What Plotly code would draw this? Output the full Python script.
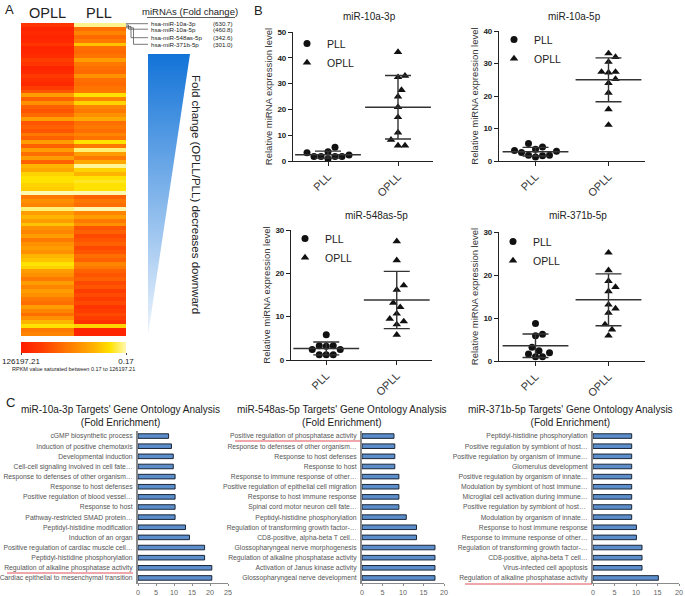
import numpy as np
import plotly.graph_objects as go

W, H = 685, 596
FONT = "Liberation Sans, Arial, sans-serif"

# ---------------- Panel A data ----------------
# position of each row on the saturated RPKM colour scale (0 -> 126197.21, 1 -> 0.17)
opll_scale = [0.15, 0.05, 0.08, 0.05, 0.07, 0.15, 0.05, 0.06, 0.10, 0.20,
              0.15, 0.05, 0.08, 0.18, 0.12, 0.08, 0.20, 0.30, 0.60, 0.35,
              0.55, 0.35, 0.30, 0.38, 0.60, 0.30, 0.35, 0.30, 0.45, 0.35,
              0.60, 0.35, 0.60, 0.40, 0.60, 0.35, 0.70, 0.65, 0.80, 0.85,
              0.85, 0.80, 0.78, 1.00, 0.45, 0.55, 0.50, 0.95, 0.60, 0.70,
              0.60, 0.75, 0.55, 0.50, 0.60, 0.45, 0.55, 0.60, 0.55, 0.70,
              0.75, 0.85, 0.80, 0.60, 0.55, 0.45, 0.60, 0.50, 0.60, 0.55,
              0.45, 0.40, 0.60, 0.50, 0.40, 0.55, 0.70, 0.85, 0.45, 0.50]
pll_scale = [0.97, 0.40, 0.50, 0.38, 0.45, 0.75, 0.40, 0.38, 0.42, 0.60,
             0.45, 0.40, 0.38, 0.55, 0.40, 0.38, 0.42, 0.45, 0.85, 0.50,
             0.80, 0.50, 0.45, 0.55, 0.65, 0.40, 0.45, 0.40, 0.50, 0.42,
             0.85, 0.45, 0.95, 0.60, 0.45, 0.65, 0.98, 0.80, 0.70, 0.85,
             0.88, 0.85, 0.85, 1.00, 0.35, 0.45, 0.40, 1.00, 0.50, 0.60,
             0.45, 0.55, 0.30, 0.35, 0.25, 0.30, 0.35, 0.25, 0.30, 0.40,
             0.35, 0.50, 0.45, 0.35, 0.30, 0.35, 0.25, 0.30, 0.20, 0.25,
             0.20, 0.25, 0.15, 0.20, 0.25, 0.20, 0.12, 0.80, 0.05, 0.05]
heat_columns = ["OPLL", "PLL"]
scale_ticks = ["126197.21", "0.17"]
mirna_labels = ["hsa-miR-10a-3p", "hsa-miR-10a-5p", "hsa-miR-548as-5p", "hsa-miR-371b-5p"]
fold_change = ["(630.7)", "(460.8)", "(342.6)", "(301.0)"]

# ---------------- Panel B data ----------------
groups = ["PLL", "OPLL"]
b_titles = ["miR-10a-3p", "miR-10a-5p", "miR-548as-5p", "miR-371b-5p"]
pll_10a3p = [3.2, 5.3, 3.6, 1.7, 1.7, 0.9, 1.7, 1.7, 2.3]
opll_10a3p = [42.2, 33.0, 32.5, 27.5, 25.0, 20.9, 17.0, 11.0, 8.2, 6.0, 6.0]
pll_10a5p = [4.3, 5.4, 3.2, 3.6, 1.8, 1.8, 1.2, 1.6, 2.6, 3.0]
opll_10a5p = [33.1, 32.0, 30.5, 27.4, 27.2, 27.4, 25.2, 24.0, 21.0, 15.9, 11.1]
pll_548as5p = [5.8, 3.3, 3.3, 3.2, 2.4, 2.4, 1.2, 1.2, 1.2]
opll_548as5p = [27.4, 23.0, 17.2, 16.2, 13.2, 12.2, 10.7, 9.5, 8.9, 8.2, 5.8]
pll_371b5p = [8.7, 5.9, 6.2, 3.2, 1.6, 2.4, 1.9, 1.0, 1.0]
opll_371b5p = [25.2, 21.1, 18.6, 17.2, 16.2, 13.1, 12.2, 11.2, 8.5, 7.3, 5.9]
b_ymax = [50, 40, 30, 30]

# ---------------- Panel C data ----------------
c_titles = ["miR-10a-3p Targets' Gene Ontology Analysis",
            "miR-548as-5p Targets' Gene Ontology Analysis",
            "miR-371b-5p Targets' Gene Ontology Analysis"]
go1_terms = ["cGMP biosynthetic process", "Induction of positive chemotaxis",
             "Developmental induction", "Cell-cell signaling involved in cell fate…",
             "Response to defenses of other organism…", "Response to host defenses",
             "Positive regulation of blood vessel…", "Response to host",
             "Pathway-restricted SMAD protein…", "Peptidyl-histidine modification",
             "Induction of an organ", "Positive regulation of cardiac muscle cell…",
             "Peptidyl-histidine phosphorylation", "Regulation of alkaline phosphatase activity",
             "Cardiac epithelial to mesenchymal transition"]
go1_values = [8.5, 9.3, 9.8, 9.8, 10.3, 10.3, 10.3, 10.3, 10.3, 13.2, 14.3, 18.5, 18.5, 20.5, 20.5]
go2_terms = ["Positive regulation of phosphatase activity", "Response to defenses of other organism…",
             "Response to host defenses", "Response to host",
             "Response to immune response of other…", "Positive regulation of epithelial cell migration",
             "Response to host immune response", "Spinal cord motor neuron cell fate…",
             "Peptidyl-histidine phosphorylation", "Regulation of transforming growth factor-…",
             "CD8-positive, alpha-beta T cell…", "Glossopharyngeal nerve morphogenesis",
             "Regulation of alkaline phosphatase activity", "Activation of Janus kinase activity",
             "Glossopharyngeal nerve development"]
go2_values = [7.8, 8.0, 8.0, 8.0, 9.0, 9.0, 9.0, 9.0, 10.8, 13.3, 13.3, 17.8, 17.8, 17.8, 17.8]
go3_terms = ["Peptidyl-histidine phosphorylation", "Positive regulation by symbiont of host…",
             "Positive regulation by organism of immune…", "Glomerulus development",
             "Positive regulation by organism of innate…", "Modulation by symbiont of host immune…",
             "Microglial cell activation during immune…", "Positive regulation by symbiont of host… ",
             "Modulation by organism of innate…", "Response to host immune response",
             "Response to immune response of other…", "Regulation of transforming growth factor-…",
             "CD8-positive, alpha-beta T cell…", "Virus-infected cell apoptosis",
             "Regulation of alkaline phosphatase activity"]
go3_values = [9.0, 9.0, 9.0, 9.0, 9.0, 9.0, 9.0, 9.0, 9.0, 10.1, 10.1, 11.4, 11.4, 11.4, 15.2]
c_xmax = [25, 20, 20]


def fx(x):
    return x / W


def fy(y):
    return 1 - y / H


def xdom(a, b):
    return [fx(a), fx(b)]


def ydom(top, bottom):
    return [fy(bottom), fy(top)]


fig = go.Figure()
layout = dict(width=W, height=H, autosize=False,
              margin=dict(l=0, r=0, t=0, b=0, pad=0, autoexpand=False),
              paper_bgcolor="white", plot_bgcolor="white",
              font=dict(family=FONT, color="#222"), bargap=0.55, showlegend=True)
annotations = []
shapes = []

# ---------------- Panel A ----------------
heat_cs = [[0.0, "#ff1c00"], [0.2, "#ff3c00"], [0.4, "#ff6e00"], [0.55, "#ff9000"],
           [0.7, "#ffb400"], [0.85, "#ffe200"], [1.0, "#fff8b0"]]
z = [[o, p] for o, p in zip(opll_scale, pll_scale)]
fig.add_trace(go.Heatmap(z=z, x=heat_columns, y=list(range(len(z))), colorscale=heat_cs,
                         zmin=0, zmax=1, xaxis="x", yaxis="y", hoverinfo="skip",
                         showlegend=False,
                         colorbar=dict(orientation="h", x=fx(73.5), xanchor="center",
                                       y=fy(342), yanchor="top", len=105 / W, thickness=11,
                                       tickvals=[0, 1], ticktext=scale_ticks,
                                       tickfont=dict(size=8, color="#222"), outlinewidth=0,
                                       ticks="outside", ticklen=2, xpad=0, ypad=0)))
layout["xaxis"] = dict(domain=xdom(21, 126), visible=False, anchor="y")
layout["yaxis"] = dict(domain=ydom(23, 336), visible=False, range=[len(z) - 0.5, -0.5], anchor="x")

# gradient triangle
fig.add_trace(go.Scatter(x=[0, 1, 0, 0], y=[1, 1, 0, 1], mode="lines", fill="toself",
                         line=dict(width=0), fillcolor="#5aa0e6",
                         fillgradient=dict(type="vertical",
                                           colorscale=[[0, "#eef5fd"], [1, "#1273d8"]]),
                         xaxis="x2", yaxis="y2", hoverinfo="skip", showlegend=False))
layout["xaxis2"] = dict(domain=xdom(148, 190), range=[0, 1], visible=False, anchor="y2")
layout["yaxis2"] = dict(domain=ydom(54, 335), range=[0, 1], visible=False, anchor="x2")

annotations += [
    dict(text="A", x=fx(3), y=fy(9), xanchor="left", yanchor="middle", font=dict(size=13)),
    dict(text="OPLL", x=fx(47), y=fy(13), font=dict(size=14.5)),
    dict(text="PLL", x=fx(99), y=fy(13), font=dict(size=14.5)),
    dict(text="miRNAs (Fold change)", x=fx(190), y=fy(11.5), font=dict(size=9.5)),
    dict(text="Fold change (OPLL/PLL) decreases downward", x=fx(196), y=fy(195),
         textangle=90, font=dict(size=11.5)),
    dict(text="RPKM value saturated between 0.17 to 126197.21", x=fx(73), y=fy(369),
         font=dict(size=5.5)),
]
shapes.append(dict(type="line", xref="paper", yref="paper", x0=fx(147), x1=fx(235),
                   y0=fy(17.5), y1=fy(17.5), line=dict(color="#333", width=0.8)))
label_y = [23.7, 29.2, 37.7, 44.3]
start_y = [23.6, 25.0, 26.4, 27.8]
elbow_x = [126, 128.5, 131, 133.5]
for lab, fc, ly, sy, ex in zip(mirna_labels, fold_change, label_y, start_y, elbow_x):
    annotations.append(dict(text=lab, x=fx(149), y=fy(ly), xanchor="left", font=dict(size=6.2)))
    annotations.append(dict(text=fc, x=fx(235), y=fy(ly), xanchor="right", font=dict(size=6.2)))
    path = "M {:.5f} {:.5f} L {:.5f} {:.5f} L {:.5f} {:.5f} L {:.5f} {:.5f}".format(
        fx(126), fy(sy), fx(ex), fy(sy), fx(ex), fy(ly), fx(148), fy(ly))
    shapes.append(dict(type="path", xref="paper", yref="paper", path=path,
                       line=dict(color="#555", width=0.8)))

# ---------------- Panel B ----------------
b_data = [(pll_10a3p, opll_10a3p), (pll_10a5p, opll_10a5p),
          (pll_548as5p, opll_548as5p), (pll_371b5p, opll_371b5p)]
b_xdom = [(293, 433), (499, 645), (291, 432), (499, 645)]
b_ydom = [(32, 161), (31, 161), (230, 360), (232, 361)]
b_title_pos = [(369, 17), (574, 17), (376, 215), (578, 215)]
b_legend_pos = [(287, 29), (494, 25), (285, 224), (493, 227)]


def swarm(vals, center, ppu_y, ppu_x, d):
    placed = []
    xs = [0.0] * len(vals)
    cands = [0] + [s * j for j in range(1, 30) for s in (1, -1)]
    for i in sorted(range(len(vals)), key=lambda k: vals[k]):
        yp = vals[i] * ppu_y
        for c in cands:
            xp = c * d / 2.0
            if all((xp - a) ** 2 + (yp - b) ** 2 >= d * d * 0.95 for a, b in placed):
                break
        placed.append((xp, yp))
        xs[i] = center + xp / ppu_x
    return xs


for k, ((pll, opll), (xa, xb), (yt, yb), ymax) in enumerate(zip(b_data, b_xdom, b_ydom, b_ymax)):
    n = k + 3
    xa_name, ya_name = "x%d" % n, "y%d" % n
    leg = "legend" if k == 0 else "legend%d" % (k + 1)
    ppu_y = (yb - yt) / ymax
    ppu_x = (xb - xa) / 2.0
    fig.add_trace(go.Scatter(x=swarm(pll, 0, ppu_y, ppu_x, 7.0), y=pll, mode="markers",
                             name=groups[0], legend=leg, xaxis=xa_name, yaxis=ya_name,
                             marker=dict(symbol="circle", size=7, color="#111")))
    fig.add_trace(go.Scatter(x=swarm(opll, 1, ppu_y, ppu_x, 7.0), y=opll, mode="markers",
                             name=groups[1], legend=leg, xaxis=xa_name, yaxis=ya_name,
                             marker=dict(symbol="triangle-up", size=7.5, color="#111")))
    means = [float(np.mean(pll)), float(np.mean(opll))]
    sds = [float(np.std(pll, ddof=1)), float(np.std(opll, ddof=1))]
    fig.add_trace(go.Scatter(x=[0, 1], y=means, mode="markers", showlegend=False,
                             xaxis=xa_name, yaxis=ya_name, hoverinfo="skip",
                             marker=dict(symbol="line-ew", size=47,
                                         line=dict(width=1.5, color="#333")),
                             error_y=dict(type="data", array=sds, width=13, thickness=1.4,
                                          color="#333")))
    layout["xaxis%d" % n] = dict(domain=xdom(xa, xb), range=[-0.5, 1.5], tickvals=[0, 1],
                                 ticktext=groups, tickangle=-45, showline=True,
                                 linecolor="#222", linewidth=1.2, ticks="outside", ticklen=4,
                                 tickcolor="#222", tickfont=dict(size=11, color="#333"),
                                 showgrid=False, zeroline=False, anchor=ya_name)
    layout["yaxis%d" % n] = dict(domain=ydom(yt, yb), range=[0, ymax], dtick=10,
                                 showline=True, linecolor="#222", linewidth=1.2,
                                 ticks="outside", ticklen=4, tickcolor="#222",
                                 tickfont=dict(size=8, color="#222", weight="bold"),
                                 showgrid=False, zeroline=False, anchor=xa_name,
                                 title=dict(text="Relative miRNA expression level",
                                            font=dict(size=9.5, color="#333"), standoff=3))
    lx, ly = b_legend_pos[k]
    layout[leg] = dict(x=fx(lx), y=fy(ly), xanchor="left", yanchor="top",
                       bgcolor="rgba(0,0,0,0)", font=dict(size=10.5, color="#222"),
                       itemwidth=30, tracegroupgap=0)
    tx, ty = b_title_pos[k]
    annotations.append(dict(text=b_titles[k], x=fx(tx), y=fy(ty), font=dict(size=10)))

annotations.append(dict(text="B", x=fx(252), y=fy(10), xanchor="left", font=dict(size=13)))

# ---------------- Panel C ----------------
c_data = [(go1_terms, go1_values), (go2_terms, go2_values), (go3_terms, go3_values)]
c_xdom = [(138, 228), (362, 444), (593, 679)]
c_title_x = [120, 342, 570]
for k, ((terms, vals), (xa, xb), xmax) in enumerate(zip(c_data, c_xdom, c_xmax)):
    n = k + 7
    xa_name, ya_name = "x%d" % n, "y%d" % n
    fig.add_trace(go.Bar(x=vals, y=terms, orientation="h", xaxis=xa_name, yaxis=ya_name,
                         showlegend=False, hoverinfo="skip",
                         marker=dict(color="#5b8ecb", line=dict(color="#1b2636", width=1))))
    layout["xaxis%d" % n] = dict(domain=xdom(xa, xb), range=[0, xmax], dtick=5,
                                 showline=True, linecolor="#8a8a8a", linewidth=1,
                                 ticks="outside", ticklen=2, tickcolor="#8a8a8a",
                                 tickfont=dict(size=7.2, color="#666"), showgrid=False,
                                 zeroline=False, anchor=ya_name)
    layout["yaxis%d" % n] = dict(domain=ydom(431, 583), type="category", autorange="reversed",
                                 showline=True, linecolor="#8a8a8a", linewidth=2,
                                 ticks="", tickfont=dict(size=6.8, color="#555"),
                                 showgrid=False, zeroline=False, anchor=xa_name,
                                 ticklabelstandoff=2)
    annotations.append(dict(text=c_titles[k] + "<br>(Fold Enrichment)", x=fx(c_title_x[k]),
                            y=fy(416), font=dict(size=10, color="#222")))

annotations.append(dict(text="C", x=fx(4), y=fy(402), xanchor="left", font=dict(size=13)))

for x0, x1, y in [(7, 133, 573), (235, 360, 441), (465, 592, 584)]:
    shapes.append(dict(type="line", xref="paper", yref="paper", x0=fx(x0), x1=fx(x1),
                       y0=fy(y), y1=fy(y), line=dict(color="#e0505a", width=1.2)))

for a in annotations:
    a.setdefault("xref", "paper")
    a.setdefault("yref", "paper")
    a.setdefault("showarrow", False)
    a.setdefault("xanchor", "center")
    a.setdefault("yanchor", "middle")

layout["annotations"] = annotations
layout["shapes"] = shapes
fig.update_layout(**layout)
fig.write_html("out.html", config={"displayModeBar": False},
               post_script="document.body.style.margin='0px';")
